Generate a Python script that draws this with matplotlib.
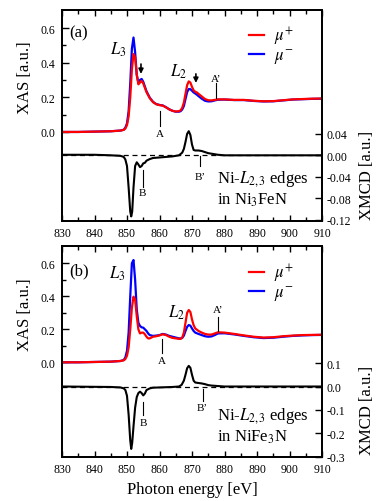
import matplotlib
matplotlib.use("Agg")
import matplotlib.pyplot as plt
from matplotlib.ticker import FixedLocator, FixedFormatter

plt.rcParams['font.family'] = 'serif'
plt.rcParams['font.serif'] = ['Liberation Serif', 'DejaVu Serif']
plt.rcParams['mathtext.fontset'] = 'stix'
plt.rcParams['axes.unicode_minus'] = False

# ---- data: panel (a) Ni3FeN ----
e_a = [830, 835, 840, 845, 848, 849, 849.5, 850, 850.5, 851, 851.5, 852, 852.5,
       853, 853.5, 854, 854.5, 855, 855.5, 856, 857, 858, 859, 860, 861, 862,
       863, 864, 865, 866, 866.5, 867, 867.5, 868, 868.5, 869, 869.5, 870,
       870.5, 871, 871.5, 872, 873, 874, 875, 876, 877, 878, 880, 883, 886,
       889, 892, 895, 898, 901, 904, 907, 910]
mu_plus_a = [0.0, 0.0, 0.002, 0.004, 0.008, 0.012, 0.02, 0.04, 0.09, 0.2, 0.36,
             0.45, 0.43, 0.33, 0.275, 0.285, 0.295, 0.28, 0.255, 0.23, 0.195,
             0.172, 0.16, 0.155, 0.152, 0.142, 0.13, 0.122, 0.118, 0.12, 0.125,
             0.14, 0.17, 0.22, 0.27, 0.292, 0.285, 0.26, 0.24, 0.232, 0.228,
             0.22, 0.205, 0.19, 0.183, 0.182, 0.185, 0.188, 0.188, 0.185, 0.185,
             0.18, 0.177, 0.178, 0.183, 0.188, 0.19, 0.192, 0.193]
mu_minus_a = [0.0, 0.0, 0.002, 0.004, 0.008, 0.013, 0.025, 0.05, 0.12, 0.28, 0.48,
              0.545, 0.46, 0.33, 0.285, 0.3, 0.306, 0.29, 0.262, 0.235, 0.198,
              0.174, 0.161, 0.156, 0.153, 0.143, 0.131, 0.122, 0.117, 0.117, 0.12,
              0.13, 0.15, 0.19, 0.23, 0.248, 0.247, 0.238, 0.228, 0.222, 0.215,
              0.207, 0.192, 0.18, 0.176, 0.177, 0.182, 0.186, 0.187, 0.184, 0.184,
              0.179, 0.176, 0.177, 0.182, 0.187, 0.189, 0.191, 0.192]
e_xmcd_a = [830, 840, 845, 848, 849, 849.5, 850, 850.5, 851, 851.3, 851.6, 852,
            852.5, 853, 853.5, 854, 854.5, 855, 855.5, 856, 857, 858, 860, 862,
            864, 866, 867, 867.5, 868, 868.5, 869, 869.5, 870, 870.5, 871, 872,
            873, 874, 875, 876, 878, 880, 890, 910]
xmcd_a = [0.001, 0.001, 0.0, -0.001, -0.003, -0.008, -0.02, -0.06, -0.105, -0.114,
          -0.105, -0.06, -0.02, -0.013, -0.017, -0.022, -0.02, -0.015, -0.014,
          -0.01, -0.007, -0.005, -0.004, -0.003, -0.002, 0.0, 0.005, 0.012, 0.025,
          0.04, 0.045, 0.038, 0.02, 0.01, 0.009, 0.009, 0.008, 0.006, 0.004,
          0.003, 0.001, 0.0, 0.0, 0.0]

# ---- data: panel (b) NiFe3N ----
e_b = [830, 835, 840, 845, 848, 849, 849.5, 850, 850.5, 851, 851.5, 852, 852.5,
       853, 853.5, 854, 854.5, 855, 855.5, 856, 856.5, 857, 858, 859, 860, 861,
       862, 863, 864, 865, 866, 866.5, 867, 867.5, 868, 868.5, 869, 869.5, 870,
       870.5, 871, 872, 873, 874, 875, 876, 877, 878, 880, 883, 886, 889, 892,
       895, 898, 901, 904, 907, 910]
mu_plus_b = [0.0, 0.0, 0.002, 0.004, 0.008, 0.012, 0.02, 0.04, 0.09, 0.2, 0.33,
             0.398, 0.38, 0.28, 0.2, 0.175, 0.18, 0.18, 0.17, 0.155, 0.145, 0.145,
             0.155, 0.158, 0.163, 0.17, 0.165, 0.155, 0.148, 0.145, 0.142, 0.142,
             0.15, 0.18, 0.24, 0.3, 0.317, 0.305, 0.26, 0.225, 0.205, 0.19, 0.18,
             0.172, 0.168, 0.168, 0.175, 0.182, 0.18, 0.172, 0.163, 0.155, 0.15,
             0.152, 0.158, 0.162, 0.165, 0.166, 0.167]
mu_minus_b = [0.0, 0.0, 0.002, 0.004, 0.008, 0.014, 0.03, 0.07, 0.18, 0.4, 0.6,
              0.62, 0.5, 0.32, 0.24, 0.22, 0.212, 0.21, 0.2, 0.19, 0.175, 0.165,
              0.16, 0.162, 0.165, 0.172, 0.168, 0.16, 0.155, 0.15, 0.145, 0.145,
              0.148, 0.162, 0.19, 0.215, 0.226, 0.222, 0.205, 0.19, 0.18, 0.172,
              0.165, 0.158, 0.155, 0.157, 0.165, 0.175, 0.176, 0.169, 0.16, 0.152,
              0.147, 0.149, 0.155, 0.16, 0.163, 0.165, 0.166]
e_xmcd_b = [830, 845, 848, 849, 849.5, 850, 850.5, 851, 851.3, 851.6, 852, 852.5,
            853, 853.5, 854, 854.5, 855, 855.5, 856, 857, 858, 860, 864, 866,
            866.8, 867.5, 868, 868.5, 869, 869.5, 870, 870.5, 871, 872, 873, 874,
            875, 876, 878, 880, 910]
xmcd_b = [0.0, -0.002, -0.004, -0.008, -0.015, -0.04, -0.12, -0.23, -0.266, -0.24,
          -0.17, -0.09, -0.045, -0.028, -0.022, -0.028, -0.038, -0.03, -0.015,
          -0.008, -0.005, -0.004, -0.002, 0.0, 0.007, 0.025, 0.05, 0.078, 0.088,
          0.08, 0.05, 0.025, 0.017, 0.015, 0.013, 0.01, 0.006, 0.004, 0.002, 0.0,
          0.0]

x_ticks = [830, 840, 850, 860, 870, 880, 890, 900, 910]
xas_ticks = [0.0, 0.2, 0.4, 0.6]
xas_labels = ['0.0', '0.2', '0.4', '0.6']
xmcd_ticks_a = [-0.12, -0.08, -0.04, 0.0, 0.04]
xmcd_labels_a = ['-0.12', '-0.08', '-0.04', '0.00', '0.04']
xmcd_ticks_b = [-0.3, -0.2, -0.1, 0.0, 0.1]
xmcd_labels_b = ['-0.3', '-0.2', '-0.1', '0.0', '0.1']

W, H = 386, 502
fig = plt.figure(figsize=(W / 100, H / 100), dpi=100)


def box(top, bottom, left=62, right=322):
    return [left / W, 1 - bottom / H, (right - left) / W, (bottom - top) / H]


def panel(rect, e, mp, mm, ex, xm, xas_lim, xmcd_lim, xmcd_ticks, xmcd_labels,
          tag, compound, ann):
    ax = fig.add_axes(rect)
    ax2 = ax.twinx()
    ax.plot(e, mm, color='blue', lw=1.6, label=r'$\mu^{-}$')
    ax.plot(e, mp, color='red', lw=1.6, label=r'$\mu^{+}$')
    ax2.axhline(0, color='black', lw=0.9, ls=(0, (4, 3)))
    ax2.plot(ex, xm, color='black', lw=1.5)
    ax.set_xlim(830, 910)
    ax.set_ylim(*xas_lim)
    ax2.set_ylim(*xmcd_lim)

    ax.xaxis.set_major_locator(FixedLocator(x_ticks))
    ax.xaxis.set_minor_locator(FixedLocator([835 + 10 * i for i in range(8)]))
    ax.tick_params(axis='x', which='both', direction='in', top=True, labelsize=8.5,
                   pad=4, width=1)
    ax.tick_params(axis='x', which='major', length=4.5)
    ax.tick_params(axis='x', which='minor', length=3)
    ax.yaxis.set_major_locator(FixedLocator(xas_ticks))
    ax.yaxis.set_major_formatter(FixedFormatter(xas_labels))
    ax.yaxis.set_minor_locator(FixedLocator([0.1, 0.3, 0.5]))
    ax.tick_params(axis='y', which='both', direction='in', labelsize=8.5, pad=5,
                   width=1)
    ax.tick_params(axis='y', which='major', length=5)
    ax.tick_params(axis='y', which='minor', length=3)
    ax2.yaxis.set_major_locator(FixedLocator(xmcd_ticks))
    ax2.yaxis.set_major_formatter(FixedFormatter(xmcd_labels))
    ax2.tick_params(axis='y', direction='in', labelsize=8.5, pad=3.5, length=5,
                    width=1)
    for a in (ax, ax2):
        for s in a.spines.values():
            s.set_linewidth(1.3)

    leg = ax.legend(handles=ax.lines[::-1], loc='upper left',
                    bbox_to_anchor=(0.72, ann['leg']), frameon=False,
                    fontsize=12, handlelength=0.9, handletextpad=0.6,
                    labelspacing=0.0, borderpad=0, borderaxespad=0)
    for t in leg.get_texts():
        t.set_va('baseline')

    ax.text(0.065, ann['tag'], tag, transform=ax.transAxes, fontsize=12,
            ha='center', va='center')
    ax.text(*ann['L3'], r'$L_3$', fontsize=12, ha='center', va='center')
    ax.text(*ann['L2'], r'$L_2$', fontsize=12, ha='center', va='center')
    for x, y0, y1 in ann.get('arrows', []):
        ax.annotate('', xy=(x, y1), xytext=(x, y0),
                    arrowprops=dict(arrowstyle='-|>', color='black', lw=1.2,
                                    mutation_scale=7, shrinkA=0, shrinkB=0))
    for name, target in (('A', ax), ("A'", ax), ('B', ax2), ("B'", ax2)):
        x, y0, y1, yt = ann[name]
        target.plot([x, x], [y0, y1], color='black', lw=0.8)
        target.text(x, yt, name.replace("'", '\u2019'), fontsize=8,
                    ha='center', va='center')
    xt, y1, y2 = ann['ni']
    ax2.text(xt, y1, r'Ni-$L_{2,3}$ edges', fontsize=12, ha='left', va='center')
    ax2.text(xt, y2, compound, fontsize=12, ha='left', va='center')
    return ax, ax2


ann_a = {
    'leg': 0.93, 'tag': 0.896,
    'L3': (847.2, 0.479), 'L2': (865.7, 0.354),
    'arrows': [(854.3, 0.392, 0.335), (871.2, 0.335, 0.283)],
    'A': (860.2, 0.123, 0.036, -0.008), "A'": (877.4, 0.283, 0.194, 0.306),
    'B': (854.8, -0.027, -0.060, -0.069), "B'": (872.5, -0.002, -0.020, -0.039),
    'ni': (877.7, -0.043, -0.082),
}
ann_b = {
    'leg': 0.925, 'tag': 0.883,
    'L3': (846.9, 0.545), 'L2': (865.3, 0.305),
    'A': (860.7, 0.141, 0.056, 0.01), "A'": (878.1, 0.275, 0.192, 0.323),
    'B': (855.0, -0.064, -0.12, -0.153), "B'": (873.3, -0.01, -0.061, -0.089),
    'ni': (877.7, -0.123, -0.213),
}

panel(box(11, 222), e_a, mu_plus_a, mu_minus_a, e_xmcd_a, xmcd_a,
      (-0.514, 0.704), (-0.1225, 0.271), xmcd_ticks_a, xmcd_labels_a,
      '(a)', r'in Ni$_3$FeN', ann_a)
panel(box(247, 458), e_b, mu_plus_b, mu_minus_b, e_xmcd_b, xmcd_b,
      (-0.574, 0.705), (-0.3005, 0.599), xmcd_ticks_b, xmcd_labels_b,
      '(b)', r'in NiFe$_3$N', ann_b)

# axis labels placed at the pixel centres of the reference
for yc in (78, 315):
    fig.text(25 / W, 1 - yc / H, 'XAS [a.u.]', rotation=90, fontsize=12,
             ha='center', va='center')
for yc in (175, 410):
    fig.text(367 / W, 1 - yc / H, 'XMCD [a.u.]', rotation=90, fontsize=12,
             ha='center', va='center')
fig.text(192 / W, 1 - 490 / H, 'Photon energy [eV]', fontsize=12,
         ha='center', va='center')

fig.savefig('out.png', dpi=100)
